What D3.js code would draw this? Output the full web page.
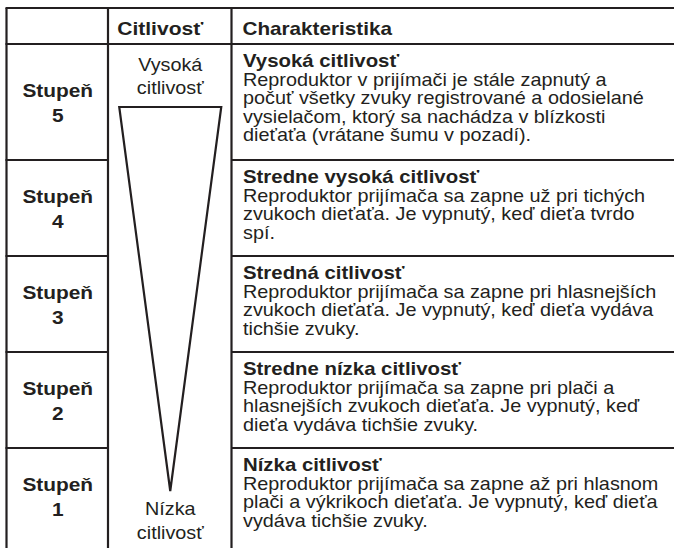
<!DOCTYPE html>
<html><head><meta charset="utf-8">
<script src="https://cdn.jsdelivr.net/npm/d3@7"></script>
<style>html,body{margin:0;padding:0;background:#fff;} svg{display:block}</style>
</head><body>
<svg id="c" width="674" height="548"></svg>
<script>
// ---- data ----
const headers = ["", "Citlivosť", "Charakteristika"];
const levelWord = "Stupeň";
const levels = [5, 4, 3, 2, 1];
const titles = ["Vysoká citlivosť", "Stredne vysoká citlivosť", "Stredná citlivosť", "Stredne nízka citlivosť", "Nízka citlivosť"];
const descriptions = [
  ["Reproduktor v prijímači je stále zapnutý a", "počuť všetky zvuky registrované a odosielané", "vysielačom, ktorý sa nachádza v blízkosti", "dieťaťa (vrátane šumu v pozadí)."],
  ["Reproduktor prijímača sa zapne už pri tichých", "zvukoch dieťaťa. Je vypnutý, keď dieťa tvrdo", "spí."],
  ["Reproduktor prijímača sa zapne pri hlasnejších", "zvukoch dieťaťa. Je vypnutý, keď dieťa vydáva", "tichšie zvuky."],
  ["Reproduktor prijímača sa zapne pri plači a", "hlasnejších zvukoch dieťaťa. Je vypnutý, keď", "dieťa vydáva tichšie zvuky."],
  ["Reproduktor prijímača sa zapne až pri hlasnom", "plači a výkrikoch dieťaťa. Je vypnutý, keď dieťa", "vydáva tichšie zvuky."]
];
const scaleTop = ["Vysoká", "citlivosť"];
const scaleBottom = ["Nízka", "citlivosť"];

// ---- layout ----
const W = 674, H = 548;
const ink = "#231f20";
const font = "'Liberation Sans', Arial, Helvetica, sans-serif";
const colEdges = [6.5, 108, 231.5, 680];
const topY = 8, headY = 44;

const svg = d3.select("#c");
svg.append("rect").attr("width", W).attr("height", H).attr("fill", "#fff");

// rows: height in "line units"
const rowUnits = descriptions.map(d => 0.8 + 1 + d.length);
const cum = [0]; rowUnits.forEach(u => cum.push(cum[cum.length - 1] + u));
const y = d3.scaleLinear().domain([0, 1]).range([headY, headY + 20]);
const rowTop = i => y(cum[i]);
const rowBot = i => y(cum[i + 1]);

function txt(str, x, yy, size, weight, anchor, sx) {
  svg.append("text")
    .attr("transform", `translate(${x},${yy}) scale(${sx},1)`)
    .attr("font-family", font).attr("font-size", size).attr("font-weight", weight)
    .attr("text-anchor", anchor).attr("fill", ink).text(str);
}

const lw = 2.2;
const line = (x1, y1, x2, y2) => svg.append("line").attr("x1", x1).attr("y1", y1).attr("x2", x2).attr("y2", y2)
  .attr("stroke", ink).attr("stroke-width", lw);

// outer / header lines
line(colEdges[0] - 1, topY, W, topY);
line(colEdges[0] - 1, headY, W, headY);
colEdges.slice(0, 3).forEach(x => line(x, topY, x, H));

// row dividers (not in middle column)
levels.forEach((l, i) => {
  if (i === levels.length - 1) return;
  const yy = rowBot(i);
  line(colEdges[0] - 1, yy, colEdges[1], yy);
  line(colEdges[2], yy, W, yy);
});

// headers
txt(headers[1], (colEdges[1] + colEdges[2]) / 2 - 9.5, 35, 18, "bold", "middle", 1.17);
txt(headers[2], colEdges[2] + 11, 35, 18, "bold", "start", 1.15);

// left column
const leftCx = (colEdges[0] + colEdges[1]) / 2 + 0.5;
levels.forEach((l, i) => {
  const c = (rowTop(i) + rowBot(i)) / 2;
  txt(levelWord, leftCx, c - 5, 18, "bold", "middle", 1.16);
  txt(String(l), leftCx, c + 20, 18, "bold", "middle", 1.16);
});

// right column
levels.forEach((l, i) => {
  const x0 = colEdges[2] + 11.5;
  const b0 = rowTop(i) + 23;
  txt(titles[i], x0, b0, 17.5, "bold", "start", 1.165);
  descriptions[i].forEach((s, j) => txt(s, x0, b0 + 18.5 * (j + 1), 17.5, "normal", "start", 1.134));
});

// middle column: sensitivity wedge
const midCx = (colEdges[1] + colEdges[2]) / 2 + 0.5;
txt(scaleTop[0], midCx, 71, 18, "normal", "middle", 1.1);
txt(scaleTop[1], midCx, 94, 18, "normal", "middle", 1.1);
txt(scaleBottom[0], midCx, 515, 18, "normal", "middle", 1.1);
txt(scaleBottom[1], midCx, 539, 18, "normal", "middle", 1.1);

const wedgeTop = rowTop(0) + 63, wedgeBot = rowTop(levels.length - 1) + 43;
const halfW = 51;
svg.append("path")
  .attr("d", d3.line()([[midCx - halfW, wedgeTop], [midCx + halfW, wedgeTop], [midCx, wedgeBot]]) + "Z")
  .attr("fill", "none").attr("stroke", ink).attr("stroke-width", lw).attr("stroke-linejoin", "miter");
</script>
</body></html>
